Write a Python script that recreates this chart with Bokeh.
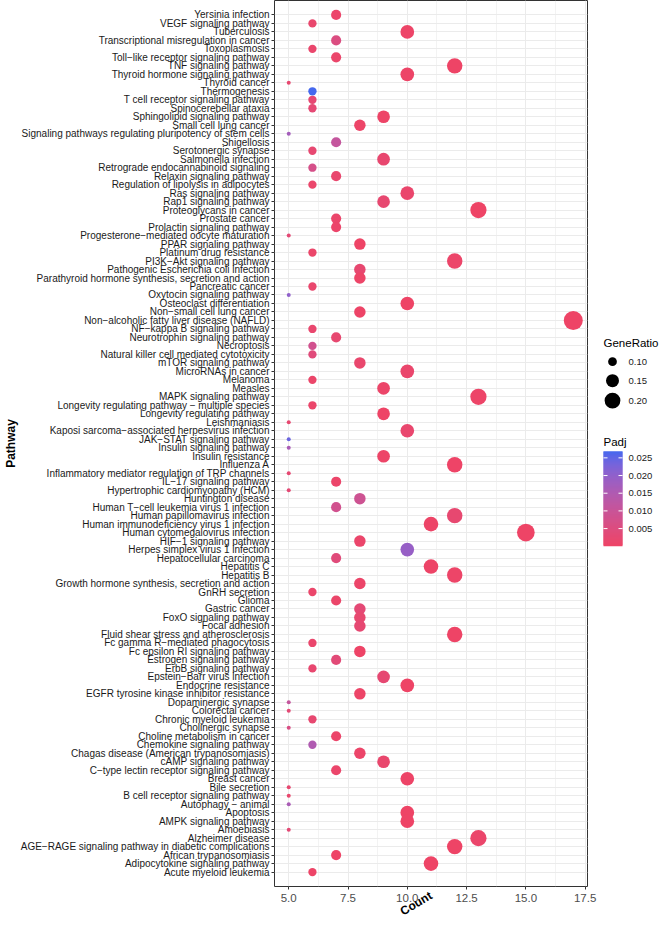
import math
from bokeh.plotting import figure
from bokeh.models import (ColumnDataSource, FactorRange, Range1d, FixedTicker,
                          PrintfTickFormatter, LinearColorMapper)
from bokeh.layouts import row
from bokeh.transform import transform
from bokeh.embed import file_html
from bokeh.resources import INLINE
from bokeh.core.properties import value

# ---------------- data (top row of the chart first) ----------------
pathways = [
    "Yersinia infection", "VEGF signaling pathway", "Tuberculosis",
    "Transcriptional misregulation in cancer", "Toxoplasmosis",
    "Toll\u2212like receptor signaling pathway", "TNF signaling pathway",
    "Thyroid hormone signaling pathway", "Thyroid cancer", "Thermogenesis",
    "T cell receptor signaling pathway", "Spinocerebellar ataxia",
    "Sphingolipid signaling pathway", "Small cell lung cancer",
    "Signaling pathways regulating pluripotency of stem cells", "Shigellosis",
    "Serotonergic synapse", "Salmonella infection",
    "Retrograde endocannabinoid signaling", "Relaxin signaling pathway",
    "Regulation of lipolysis in adipocytes", "Ras signaling pathway",
    "Rap1 signaling pathway", "Proteoglycans in cancer", "Prostate cancer",
    "Prolactin signaling pathway", "Progesterone\u2212mediated oocyte maturation",
    "PPAR signaling pathway", "Platinum drug resistance",
    "PI3K\u2212Akt signaling pathway", "Pathogenic Escherichia coli infection",
    "Parathyroid hormone synthesis, secretion and action", "Pancreatic cancer",
    "Oxytocin signaling pathway", "Osteoclast differentiation",
    "Non\u2212small cell lung cancer", "Non\u2212alcoholic fatty liver disease (NAFLD)",
    "NF\u2212kappa B signaling pathway", "Neurotrophin signaling pathway",
    "Necroptosis", "Natural killer cell mediated cytotoxicity",
    "mTOR signaling pathway", "MicroRNAs in cancer", "Melanoma", "Measles",
    "MAPK signaling pathway", "Longevity regulating pathway \u2212 multiple species",
    "Longevity regulating pathway", "Leishmaniasis",
    "Kaposi sarcoma\u2212associated herpesvirus infection",
    "JAK\u2212STAT signaling pathway", "Insulin signaling pathway",
    "Insulin resistance", "Influenza A",
    "Inflammatory mediator regulation of TRP channels",
    "IL\u221217 signaling pathway", "Hypertrophic cardiomyopathy (HCM)",
    "Huntington disease", "Human T\u2212cell leukemia virus 1 infection",
    "Human papillomavirus infection", "Human immunodeficiency virus 1 infection",
    "Human cytomegalovirus infection", "HIF\u22121 signaling pathway",
    "Herpes simplex virus 1 infection", "Hepatocellular carcinoma",
    "Hepatitis C", "Hepatitis B",
    "Growth hormone synthesis, secretion and action", "GnRH secretion",
    "Glioma", "Gastric cancer", "FoxO signaling pathway", "Focal adhesion",
    "Fluid shear stress and atherosclerosis",
    "Fc gamma R\u2212mediated phagocytosis", "Fc epsilon RI signaling pathway",
    "Estrogen signaling pathway", "ErbB signaling pathway",
    "Epstein\u2212Barr virus infection", "Endocrine resistance",
    "EGFR tyrosine kinase inhibitor resistance", "Dopaminergic synapse",
    "Colorectal cancer", "Chronic myeloid leukemia", "Cholinergic synapse",
    "Choline metabolism in cancer", "Chemokine signaling pathway",
    "Chagas disease (American trypanosomiasis)", "cAMP signaling pathway",
    "C\u2212type lectin receptor signaling pathway", "Breast cancer",
    "Bile secretion", "B cell receptor signaling pathway",
    "Autophagy \u2212 animal", "Apoptosis", "AMPK signaling pathway",
    "Amoebiasis", "Alzheimer disease",
    "AGE\u2212RAGE signaling pathway in diabetic complications",
    "African trypanosomiasis", "Adipocytokine signaling pathway",
    "Acute myeloid leukemia",
]

counts = [
    7, 6, 10, 7, 6, 7, 12, 10, 5, 6,
    6, 6, 9, 8, 5, 7, 6, 9, 6, 7,
    6, 10, 9, 13, 7, 7, 5, 8, 6, 12,
    8, 8, 6, 5, 10, 8, 17, 6, 7, 6,
    6, 8, 10, 6, 9, 13, 6, 9, 5, 10,
    5, 5, 9, 12, 5, 7, 5, 8, 7, 12,
    11, 15, 8, 10, 7, 11, 12, 8, 6, 7,
    8, 8, 8, 12, 6, 8, 7, 6, 9, 10,
    8, 5, 5, 6, 5, 7, 6, 8, 9, 7,
    10, 5, 5, 5, 10, 10, 5, 13, 12, 7,
    11, 6,
]

padj = [
    0.0008, 0.0015, 0.0004, 0.0055, 0.0012, 0.0010, 0.00001, 0.0003, 0.0020, 0.0268,
    0.0025, 0.0028, 0.0003, 0.0004, 0.0170, 0.0110, 0.0022, 0.0018, 0.0070, 0.0016,
    0.0010, 0.0012, 0.0020, 0.00002, 0.0010, 0.0008, 0.0030, 0.0001, 0.0009, 0.0006,
    0.0020, 0.0004, 0.0015, 0.0200, 0.0001, 0.0003, 0.000001, 0.0016, 0.0020, 0.0080,
    0.0040, 0.0015, 0.0012, 0.0009, 0.0007, 0.0004, 0.0010, 0.0001, 0.0020, 0.0016,
    0.0240, 0.0160, 0.0004, 0.0002, 0.0025, 0.0008, 0.0030, 0.0090, 0.0080, 0.0020,
    0.0003, 0.00002, 0.0010, 0.0190, 0.0040, 0.0003, 0.0004, 0.0006, 0.0010, 0.0009,
    0.0030, 0.0020, 0.0025, 0.00005, 0.0012, 0.0002, 0.0035, 0.0018, 0.0025, 0.00003,
    0.0004, 0.0110, 0.0030, 0.0020, 0.0060, 0.0008, 0.0150, 0.0006, 0.0015, 0.0010,
    0.0003, 0.0020, 0.0015, 0.0160, 0.0001, 0.0001, 0.0030, 0.0010, 0.00001, 0.00005,
    0.000005, 0.0003,
]

N_GENES = 62                      # GeneRatio = Count / annotated input genes
x_ticks = [5.0, 7.5, 10.0, 12.5, 15.0, 17.5]
x_minor = [6.25, 8.75, 11.25, 13.75, 16.25]
generatio_keys = [0.10, 0.15, 0.20]
padj_ticks = [0.005, 0.010, 0.015, 0.020, 0.025]

# ---------------- colour scale (ggplot-like Lab gradient) ----------------
LOW_COL, HIGH_COL = "#EE4466", "#4568EE"

def _lin(c):
    c = c / 255.0
    return c / 12.92 if c <= 0.04045 else ((c + 0.055) / 1.055) ** 2.4

def _unlin(c):
    c = max(0.0, min(1.0, c))
    v = 12.92 * c if c <= 0.0031308 else 1.055 * c ** (1 / 2.4) - 0.055
    return int(round(max(0.0, min(1.0, v)) * 255))

def hex_to_lab(h):
    r, g, b = [_lin(int(h[i:i + 2], 16)) for i in (1, 3, 5)]
    X = (0.4124 * r + 0.3576 * g + 0.1805 * b) / 0.95047
    Y = 0.2126 * r + 0.7152 * g + 0.0722 * b
    Z = (0.0193 * r + 0.1192 * g + 0.9505 * b) / 1.08883
    f = lambda t: t ** (1 / 3) if t > 0.008856 else 7.787 * t + 16 / 116
    fx, fy, fz = f(X), f(Y), f(Z)
    return 116 * fy - 16, 500 * (fx - fy), 200 * (fy - fz)

def lab_to_hex(L, a, b):
    fy = (L + 16) / 116
    fx, fz = fy + a / 500, fy - b / 200
    finv = lambda t: t ** 3 if t ** 3 > 0.008856 else (t - 16 / 116) / 7.787
    X, Y, Z = finv(fx) * 0.95047, finv(fy), finv(fz) * 1.08883
    r = 3.2406 * X - 1.5372 * Y - 0.4986 * Z
    g = -0.9689 * X + 1.8758 * Y + 0.0415 * Z
    bb = 0.0557 * X - 0.2040 * Y + 1.0570 * Z
    return "#%02x%02x%02x" % (_unlin(r), _unlin(g), _unlin(bb))

l0, l1 = hex_to_lab(LOW_COL), hex_to_lab(HIGH_COL)
palette = [lab_to_hex(*[l0[k] + (l1[k] - l0[k]) * i / 255 for k in range(3)]) for i in range(256)]
PMIN, PMAX = min(padj), max(padj)
mapper = LinearColorMapper(palette=palette, low=PMIN, high=PMAX)

# ---------------- size scale (area-like, as ggplot scale_size) ----------------
gene_ratio = [c / N_GENES for c in counts]
gr_min, gr_max = min(gene_ratio), max(gene_ratio)

def dot_size(gr):
    t = max(0.0, (gr - gr_min) / (gr_max - gr_min))
    return 4.0 + 15.0 * math.sqrt(t)

src = ColumnDataSource(dict(pathway=pathways, count=counts, padj=padj,
                            generatio=gene_ratio,
                            size=[dot_size(g) for g in gene_ratio]))

FONT = "Liberation Sans"
W_MAIN, W_LEG, H = 598, 64, 927
PAGE_TOP = 8                        # page offset above the figures
FRAME_TOP, FRAME_BOT = 8, 896       # panel extent on the page (legend shares it)

p = figure(width=W_MAIN, height=H, output_backend="svg", toolbar_location=None,
           y_range=FactorRange(factors=pathways[::-1], range_padding=1.2,
                               range_padding_units="absolute"),
           x_range=Range1d(4.4, 17.6),
           min_border_left=10, min_border_right=11,
           min_border_top=FRAME_TOP - PAGE_TOP, min_border_bottom=5)
try:
    p.title = None
except Exception:
    p.title.visible = False

p.scatter(x="count", y="pathway", size="size", source=src,
          fill_color=transform("padj", mapper), line_color=None)

p.background_fill_color = "white"
p.border_fill_color = "white"
p.outline_line_color = "#333333"
p.outline_line_width = 1

p.xaxis.ticker = FixedTicker(ticks=x_ticks, minor_ticks=x_minor)
p.xaxis.formatter = PrintfTickFormatter(format="%.1f")
p.xaxis.major_label_text_font_size = "11.5px"
p.xaxis.major_label_text_color = "#4D4D4D"
p.xaxis.major_label_text_font = FONT
p.xaxis.major_label_standoff = 3
p.xaxis.minor_tick_line_color = None
p.yaxis.major_label_text_font_size = "10px"
p.yaxis.major_label_text_color = "#1A1A1A"
p.yaxis.major_label_text_font = FONT
p.yaxis.major_label_standoff = 2
for ax in (p.xaxis, p.yaxis):
    ax.axis_line_color = None
    ax.major_tick_line_color = "#333333"
    ax.major_tick_in = 0
    ax.major_tick_out = 3
    ax.axis_label_text_font = FONT
    ax.axis_label_text_font_size = "12px"
    ax.axis_label_text_font_style = "bold"
    ax.axis_label_text_color = "black"

p.yaxis.axis_label = "Pathway"
p.yaxis.axis_label_standoff = 0
p.xaxis.axis_label = "Count"
p.xaxis.axis_label_standoff = -10
try:
    p.xaxis.axis_label_orientation = 0.54
except Exception:
    pass

p.xgrid.grid_line_color = "#EBEBEB"
p.xgrid.minor_grid_line_color = "#EBEBEB"
p.xgrid.minor_grid_line_width = 0.6
p.ygrid.grid_line_color = "#EBEBEB"

# ---------------- legend panel (page pixel coordinates, y downwards) ----------------
leg = figure(width=W_LEG, height=H, output_backend="svg", toolbar_location=None,
             x_range=Range1d(0, W_LEG), y_range=Range1d(FRAME_BOT, FRAME_TOP),
             x_axis_type=None, y_axis_type=None, min_border=0)
try:
    leg.title = None
except Exception:
    leg.title.visible = False
leg.outline_line_color = None
leg.grid.visible = False
leg.background_fill_color = "white"
leg.border_fill_color = "white"

LX = 5            # legend left edge
key_y = [370, 389, 409]
leg.text(x=[LX], y=[351], text=["GeneRatio"], text_font=value(FONT),
         text_font_size=value("11.5px"), text_baseline="middle", text_color="black")
leg.scatter(x=[LX + 9] * 3, y=key_y, size=[dot_size(g) for g in generatio_keys],
            fill_color="black", line_color=None)
leg.text(x=[LX + 25] * 3, y=key_y, text=["%.2f" % g for g in generatio_keys],
         text_font=value(FONT), text_font_size=value("9.5px"),
         text_baseline="middle", text_color="#1A1A1A")

# Padj colour bar
BAR_TOP, BAR_BOT, BAR_W = 460, 555, 19
def bar_y(v):
    return BAR_BOT - (v - PMIN) / (PMAX - PMIN) * (BAR_BOT - BAR_TOP)
NSTEP = 95
bar_src = ColumnDataSource(dict(
    v=[PMIN + (PMAX - PMIN) * (i + 0.5) / NSTEP for i in range(NSTEP)],
    b=[bar_y(PMIN + (PMAX - PMIN) * i / NSTEP) for i in range(NSTEP)],
    t=[max(BAR_TOP, bar_y(PMIN + (PMAX - PMIN) * (i + 1) / NSTEP) - 1.0) for i in range(NSTEP)],
))
leg.quad(left=LX, right=LX + BAR_W, bottom="b", top="t",
         fill_color=transform("v", mapper), fill_alpha=1.0, line_color=None,
         source=bar_src)
ty = [bar_y(t) for t in padj_ticks]
leg.segment(x0=[LX] * 5, x1=[LX + 4] * 5, y0=ty, y1=ty, line_color="white", line_width=1)
leg.segment(x0=[LX + BAR_W - 4] * 5, x1=[LX + BAR_W] * 5, y0=ty, y1=ty,
            line_color="white", line_width=1)
leg.text(x=[LX + 25] * 5, y=ty, text=["%.3f" % t for t in padj_ticks],
         text_font=value(FONT), text_font_size=value("9.5px"),
         text_baseline="middle", text_color="#1A1A1A")
leg.text(x=[LX], y=[450], text=["Padj"], text_font=value(FONT),
         text_font_size=value("11.5px"), text_baseline="middle", text_color="black")

layout = row(p, leg)
open("out.html", "w").write(file_html(layout, INLINE))
